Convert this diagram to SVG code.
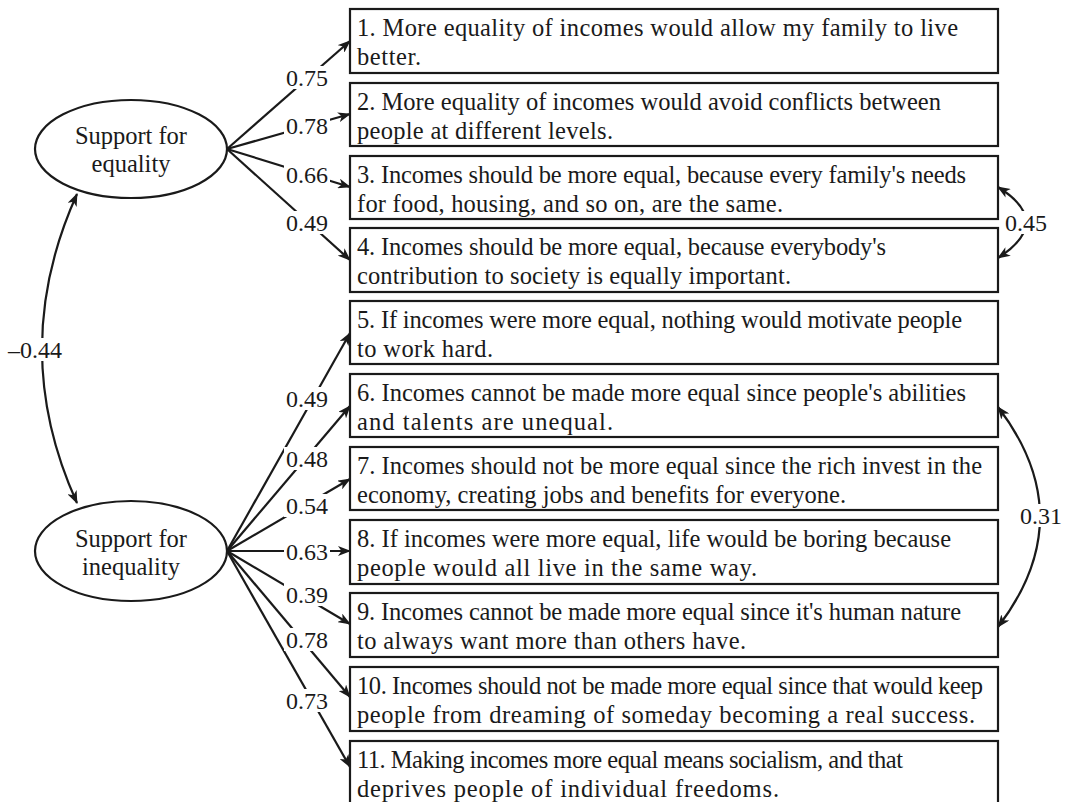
<svg xmlns="http://www.w3.org/2000/svg" width="1071" height="802" viewBox="0 0 1071 802">
<style>
text{font-family:"Liberation Serif","Times New Roman",serif;font-size:24.5px;fill:#1a1a1a}
.lbl{text-anchor:middle;font-size:24px}
.ctr{text-anchor:middle}
.box{fill:#fff;stroke:#1a1a1a;stroke-width:2.2}
.ell{fill:#fff;stroke:#1a1a1a;stroke-width:2.2}
.ln{fill:none;stroke:#1a1a1a;stroke-width:2.2;marker-end:url(#ah)}
.dbl{fill:none;stroke:#1a1a1a;stroke-width:2.2;marker-start:url(#ah);marker-end:url(#ah)}
.bg{fill:#fff}
</style>
<defs>
<marker id="ah" viewBox="0 0 13 10" refX="12" refY="5" markerWidth="13" markerHeight="10" markerUnits="userSpaceOnUse" orient="auto-start-reverse">
<path d="M0,0 L13,5 L0,10 L3.5,5 z" fill="#1a1a1a"/>
</marker>
</defs>
<rect width="1071" height="802" fill="#fff"/>
<g id="connectors">
<path class="ln" d="M227,149 L350,41"/>
<path class="ln" d="M227,149 L350,114"/>
<path class="ln" d="M227,149 L350,187"/>
<path class="ln" d="M227,149 L350,260"/>
<path class="ln" d="M227,551 L350,333"/>
<path class="ln" d="M227,551 L350,406"/>
<path class="ln" d="M227,551 L350,479"/>
<path class="ln" d="M227,551 L350,551"/>
<path class="ln" d="M227,551 L350,624"/>
<path class="ln" d="M227,551 L350,697"/>
<path class="ln" d="M227,551 L350,767"/>
<path class="dbl" d="M77,194 Q7,349 77,503"/>
<path class="dbl" d="M998,187 Q1054,222 998,258"/>
<path class="dbl" d="M998,407 Q1082,517 998,627"/>
<rect class="bg" x="284" y="66" width="46" height="23"/>
<text class="lbl" x="307" y="86">0.75</text>
<rect class="bg" x="284" y="114" width="46" height="23"/>
<text class="lbl" x="307" y="134">0.78</text>
<rect class="bg" x="284" y="163" width="46" height="23"/>
<text class="lbl" x="307" y="183">0.66</text>
<rect class="bg" x="284" y="211" width="46" height="23"/>
<text class="lbl" x="307" y="231">0.49</text>
<rect class="bg" x="284" y="387" width="46" height="23"/>
<text class="lbl" x="307" y="407">0.49</text>
<rect class="bg" x="284" y="447" width="46" height="23"/>
<text class="lbl" x="307" y="467">0.48</text>
<rect class="bg" x="284" y="494" width="46" height="23"/>
<text class="lbl" x="307" y="514">0.54</text>
<rect class="bg" x="284" y="540" width="46" height="23"/>
<text class="lbl" x="307" y="560">0.63</text>
<rect class="bg" x="284" y="583" width="46" height="23"/>
<text class="lbl" x="307" y="603">0.39</text>
<rect class="bg" x="284" y="628" width="46" height="23"/>
<text class="lbl" x="307" y="648">0.78</text>
<rect class="bg" x="284" y="689" width="46" height="23"/>
<text class="lbl" x="307" y="709">0.73</text>
<rect class="bg" x="5" y="338" width="60" height="23"/>
<text class="lbl" x="35" y="358">–0.44</text>
<rect class="bg" x="1004" y="211" width="44" height="23"/>
<text class="lbl" x="1026" y="231">0.45</text>
<rect class="bg" x="1019" y="504" width="44" height="23"/>
<text class="lbl" x="1041" y="524">0.31</text>
</g>
<g id="f-equality">
<ellipse class="ell" cx="131" cy="149" rx="96" ry="49"/>
<text class="ctr" x="131" y="144" textLength="112">Support for</text>
<text class="ctr" x="131" y="172">equality</text>
</g>
<g id="f-inequality">
<ellipse class="ell" cx="131" cy="551" rx="96" ry="50"/>
<text class="ctr" x="131" y="547" textLength="112">Support for</text>
<text class="ctr" x="131" y="575">inequality</text>
</g>
<g id="item1"><rect class="box" x="350" y="9" width="648" height="64"/>
<text x="357" y="36" textLength="601">1. More equality of incomes would allow my family to live</text>
<text x="357" y="65" textLength="64">better.</text></g>
<g id="item2"><rect class="box" x="350" y="83" width="648" height="63"/>
<text x="357" y="110" textLength="584">2. More equality of incomes would avoid conflicts between</text>
<text x="357" y="139" textLength="256">people at different levels.</text></g>
<g id="item3"><rect class="box" x="350" y="156" width="648" height="63"/>
<text x="357" y="183" textLength="609">3. Incomes should be more equal, because every family's needs</text>
<text x="357" y="212" textLength="426">for food, housing, and so on, are the same.</text></g>
<g id="item4"><rect class="box" x="350" y="228" width="648" height="64"/>
<text x="357" y="255" textLength="529">4. Incomes should be more equal, because everybody's</text>
<text x="357" y="284" textLength="434">contribution to society is equally important.</text></g>
<g id="item5"><rect class="box" x="350" y="301" width="648" height="63"/>
<text x="357" y="328" textLength="605">5. If incomes were more equal, nothing would motivate people</text>
<text x="357" y="357" textLength="136">to work hard.</text></g>
<g id="item6"><rect class="box" x="350" y="374" width="648" height="63"/>
<text x="357" y="401" textLength="609">6. Incomes cannot be made more equal since people's abilities</text>
<text x="357" y="430" textLength="256">and talents are unequal.</text></g>
<g id="item7"><rect class="box" x="350" y="447" width="648" height="63"/>
<text x="357" y="474" textLength="625">7. Incomes should not be more equal since the rich invest in the</text>
<text x="357" y="503" textLength="489">economy, creating jobs and benefits for everyone.</text></g>
<g id="item8"><rect class="box" x="350" y="520" width="648" height="64"/>
<text x="357" y="547" textLength="594">8. If incomes were more equal, life would be boring because</text>
<text x="357" y="576" textLength="400">people would all live in the same way.</text></g>
<g id="item9"><rect class="box" x="350" y="593" width="648" height="64"/>
<text x="357" y="620" textLength="604">9. Incomes cannot be made more equal since it's human nature</text>
<text x="357" y="649" textLength="389">to always want more than others have.</text></g>
<g id="item10"><rect class="box" x="350" y="667" width="648" height="64"/>
<text x="357" y="694" textLength="626">10. Incomes should not be made more equal since that would keep</text>
<text x="357" y="723" textLength="618">people from dreaming of someday becoming a real success.</text></g>
<g id="item11"><rect class="box" x="350" y="741" width="648" height="64"/>
<text x="357" y="768" textLength="546">11. Making incomes more equal means socialism, and that</text>
<text x="357" y="797" textLength="422">deprives people of individual freedoms.</text></g>
</svg>
